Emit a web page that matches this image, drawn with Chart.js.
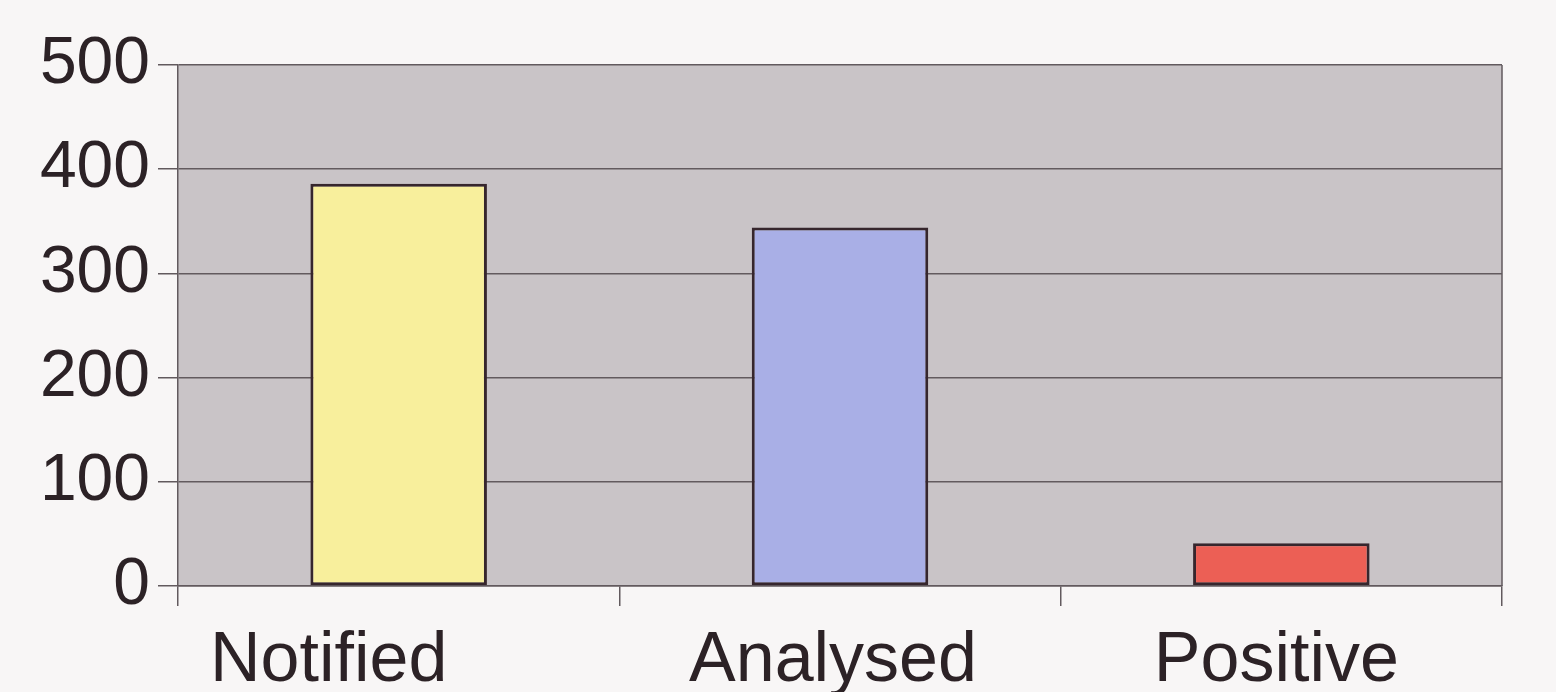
<!DOCTYPE html>
<html>
<head>
<meta charset="utf-8">
<script src="https://cdn.jsdelivr.net/npm/chart.js@4/dist/chart.umd.min.js"></script>
<style>
  html, body { margin: 0; padding: 0; background: #f8f6f6; }
  #wrap { width: 1556px; height: 692px; position: relative; }
</style>
</head>
<body>
<div id="wrap"><canvas id="c" width="1556" height="692"></canvas></div>
<script>
// Case counts per stage
const categories = ['Notified', 'Analysed', 'Positive'];
const counts = [386, 344, 41];
const barColors = ['#f8ef9c', '#a9afe6', '#ec5f55'];
const yMin = 0;
const yMax = 500;
const yStep = 100;

const FONT = '"Liberation Sans", Arial, sans-serif';
const INK = '#2c2226';
const GRID = '#625a5e';

// Category captions sit a little left of their bars
const captionShift = [-70, -7, -5];
const captionBaseline = 681;

// Grey plot panel behind the bars, with a frame on its right edge
const plotPanel = {
  id: 'plotPanel',
  beforeDraw(chart) {
    const { ctx, chartArea: a } = chart;
    ctx.save();
    ctx.fillStyle = '#c9c4c7';
    ctx.fillRect(a.left, a.top, a.right - a.left, a.bottom - a.top);
    ctx.restore();
  },
  afterDatasetsDraw(chart) {
    const { ctx, chartArea: a } = chart;
    ctx.save();
    ctx.strokeStyle = GRID;
    ctx.lineWidth = 1.5;
    ctx.beginPath();
    ctx.moveTo(a.right, a.top);
    ctx.lineTo(a.right, a.bottom);
    ctx.stroke();
    ctx.restore();
  },
  afterDraw(chart) {
    const { ctx } = chart;
    const xs = chart.scales.x;
    ctx.save();
    ctx.fillStyle = INK;
    ctx.font = '70px ' + FONT;
    ctx.textAlign = 'center';
    ctx.textBaseline = 'alphabetic';
    categories.forEach((name, i) => {
      ctx.fillText(name, xs.getPixelForValue(i) + captionShift[i], captionBaseline);
    });
    ctx.restore();
  }
};

new Chart(document.getElementById('c'), {
  type: 'bar',
  data: {
    labels: categories,
    datasets: [{
      data: counts,
      backgroundColor: barColors,
      borderColor: '#36262d',
      borderWidth: 3,
      borderSkipped: false,
      barPercentage: 0.4,
      categoryPercentage: 1.0
    }]
  },
  options: {
    responsive: false,
    animation: false,
    devicePixelRatio: 1,
    layout: { padding: { top: 65, right: 54, bottom: 0, left: 0 } },
    plugins: {
      legend: { display: false },
      tooltip: { enabled: false }
    },
    scales: {
      x: {
        offset: true,
        grid: {
          offset: true,
          drawOnChartArea: false,
          drawTicks: true,
          tickLength: 20,
          color: GRID,
          lineWidth: 1.5
        },
        border: { display: true, color: GRID, width: 1.5 },
        ticks: { display: false },
        afterFit(scale) { scale.height = 106; }
      },
      y: {
        min: yMin,
        max: yMax,
        grid: {
          drawTicks: true,
          tickLength: 20,
          color: GRID,
          lineWidth: 1.5
        },
        border: { display: true, color: GRID, width: 1.5 },
        ticks: {
          stepSize: yStep,
          color: INK,
          padding: 8,
          font: { family: FONT, size: 66 }
        },
        afterFit(scale) { scale.width = 178; }
      }
    }
  },
  plugins: [plotPanel]
});
</script>
</body>
</html>
